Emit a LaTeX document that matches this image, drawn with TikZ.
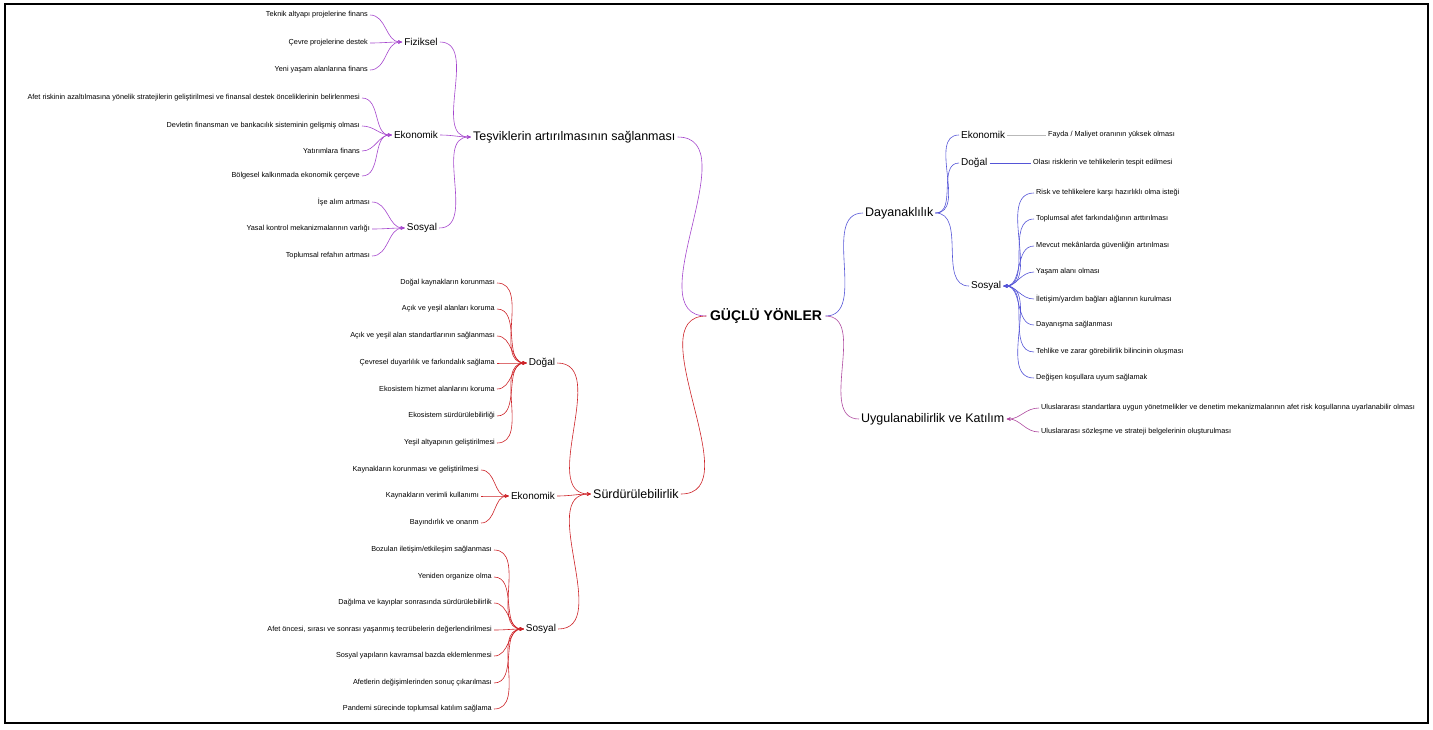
\documentclass[tikz,border=0pt]{standalone}
\usepackage{fontspec}
\setmainfont{Liberation Sans}
\usetikzlibrary{arrows.meta}
\definecolor{tescol}{RGB}{165,70,205}
\definecolor{surcol}{RGB}{205,35,40}
\definecolor{daycol}{RGB}{85,85,215}
\definecolor{uygcol}{RGB}{175,75,160}
\tikzset{
  leaf/.style={font=\fontsize{7.3}{8}\selectfont, inner sep=2pt},
  branch/.style={font=\fontsize{10}{12}\selectfont, inner sep=2pt},
  topic/.style={font=\fontsize{12.5}{14}\selectfont, inner sep=2pt},
  wire/.style={line width=0.6pt},
}
\begin{document}
\begin{tikzpicture}[x=1pt,y=-1pt,>={Stealth[length=4pt,width=3.5pt]}]
  \useasboundingbox (0,0) rectangle (1433,729);
  \draw[line width=1.6pt] (5,4) rectangle (1428,723);
  % --- centre of the map
  \node[font=\fontsize{14}{16}\selectfont\bfseries] (root) at (766,316) {GÜÇLÜ YÖNLER};
  % --- upper left: incentives, purple
  \node[topic, anchor=west] (tes) at (471,137) {Teşviklerin artırılmasının sağlanması};
  \node[branch] (tfiz) at (421,42) {Fiziksel};
  \node[branch] (teko) at (416,135) {Ekonomik};
  \node[branch] (tsos) at (422,228) {Sosyal};
  \foreach \y/\t [count=\i] in {15/Teknik altyapı projelerine finans,
                                43/Çevre projelerine destek,
                                70/Yeni yaşam alanlarına finans}{
    \node[leaf, anchor=east] (tfiz\i) at (370,\y) {\t};
    \draw[wire, tescol, ->] (tfiz\i.east) to[out=0,in=180] (tfiz.west);}
  \foreach \y/\t [count=\i] in {98/Afet riskinin azaltılmasına yönelik stratejilerin geliştirilmesi ve finansal destek önceliklerinin belirlenmesi,
                                126/Devletin finansman ve bankacılık sisteminin gelişmiş olması,
                                151/Yatırımlara finans,
                                176/Bölgesel kalkınmada ekonomik çerçeve}{
    \node[leaf, anchor=east] (teko\i) at (362,\y) {\t};
    \draw[wire, tescol, ->] (teko\i.east) to[out=0,in=180] (teko.west);}
  \foreach \y/\t [count=\i] in {202/İşe alım artması,
                                229/Yasal kontrol mekanizmalarının varlığı,
                                256/Toplumsal refahın artması}{
    \node[leaf, anchor=east] (tsos\i) at (372,\y) {\t};
    \draw[wire, tescol, ->] (tsos\i.east) to[out=0,in=180] (tsos.west);}
  \foreach \b in {tfiz,teko,tsos}
    \draw[wire, tescol, ->] (\b.east) to[out=0,in=180] (tes.west);
  \draw[wire, tescol] (tes.east) to[out=0,in=180] (root.west);
  % --- lower left: sustainability, red
  \node[topic, anchor=west] (sur) at (591,494) {Sürdürülebilirlik};
  \node[branch] (sdog) at (542,363) {Doğal};
  \node[branch] (seko) at (533,496) {Ekonomik};
  \node[branch] (ssos) at (541,629) {Sosyal};
  \foreach \y/\t [count=\i] in {283/Doğal kaynakların korunması,
                                309/Açık ve yeşil alanları koruma,
                                336/Açık ve yeşil alan standartlarının sağlanması,
                                363/Çevresel duyarlılık ve farkındalık sağlama,
                                389/Ekosistem hizmet alanlarını koruma,
                                416/Ekosistem sürdürülebilirliği,
                                443/Yeşil altyapının geliştirilmesi}{
    \node[leaf, anchor=east] (sdog\i) at (497,\y) {\t};
    \draw[wire, surcol, ->] (sdog\i.east) to[out=0,in=180] (sdog.west);}
  \foreach \y/\t [count=\i] in {470/Kaynakların korunması ve geliştirilmesi,
                                496/Kaynakların verimli kullanımı,
                                523/Bayındırlık ve onarım}{
    \node[leaf, anchor=east] (seko\i) at (481,\y) {\t};
    \draw[wire, surcol, ->] (seko\i.east) to[out=0,in=180] (seko.west);}
  \foreach \y/\t [count=\i] in {550/{Bozulan iletişim/etkileşim sağlanması},
                                577/Yeniden organize olma,
                                603/Dağılma ve kayıplar sonrasında sürdürülebilirlik,
                                630/{Afet öncesi, sırası ve sonrası yaşanmış tecrübelerin değerlendirilmesi},
                                656/Sosyal yapıların kavramsal bazda eklemlenmesi,
                                683/Afetlerin değişimlerinden sonuç çıkarılması,
                                709/Pandemi sürecinde toplumsal katılım sağlama}{
    \node[leaf, anchor=east] (ssos\i) at (494,\y) {\t};
    \draw[wire, surcol, ->] (ssos\i.east) to[out=0,in=180] (ssos.west);}
  \foreach \b in {sdog,seko,ssos}
    \draw[wire, surcol, ->] (\b.east) to[out=0,in=180] (sur.west);
  \draw[wire, surcol] (sur.east) to[out=0,in=180] (root.west);
  % --- upper right: resilience, blue
  \node[topic, anchor=west] (day) at (863,213) {Dayanaklılık};
  \node[branch, anchor=west] (deko) at (959,135) {Ekonomik};
  \node[branch, anchor=west] (ddog) at (959,163) {Doğal};
  \node[branch, anchor=west] (dsos) at (969,286) {Sosyal};
  \node[leaf, anchor=west] (deko1) at (1046,135) {Fayda / Maliyet oranının yüksek olması};
  \node[leaf, anchor=west] (ddog1) at (1031,163) {Olası risklerin ve tehlikelerin tespit edilmesi};
  \draw[wire, gray!55] (deko.east) -- (deko1.west);
  \draw[wire, daycol] (ddog.east) -- (ddog1.west);
  \foreach \y/\t [count=\i] in {193/Risk ve tehlikelere karşı hazırlıklı olma isteği,
                                219/Toplumsal afet farkındalığının arttırılması,
                                246/Mevcut mekânlarda güvenliğin artırılması,
                                272/Yaşam alanı olması,
                                299/{İletişim/yardım bağları ağlarının kurulması},
                                325/Dayanışma sağlanması,
                                352/Tehlike ve zarar görebilirlik bilincinin oluşması,
                                378/Değişen koşullara uyum sağlamak}{
    \node[leaf, anchor=west] (dsos\i) at (1034,\y) {\t};
    \draw[wire, daycol, ->] (dsos\i.west) to[out=180,in=0] (dsos.east);}
  \foreach \b in {deko,ddog,dsos}
    \draw[wire, daycol] (day.east) to[out=0,in=180] (\b.west);
  \draw[wire, daycol] (root.east) to[out=0,in=180] (day.west);
  % --- lower right: applicability, pink-purple
  \node[topic, anchor=west] (uyg) at (859,419) {Uygulanabilirlik ve Katılım};
  \foreach \y/\t [count=\i] in {408/Uluslararası standartlara uygun yönetmelikler ve denetim mekanizmalarının afet risk koşullarına uyarlanabilir olması,
                                432/Uluslararası sözleşme ve strateji belgelerinin oluşturulması}{
    \node[leaf, anchor=west] (uyg\i) at (1039,\y) {\t};
    \draw[wire, uygcol, ->] (uyg\i.west) to[out=180,in=0] (uyg.east);}
  \draw[wire, uygcol] (root.east) to[out=0,in=180] (uyg.west);
\end{tikzpicture}
\end{document}
